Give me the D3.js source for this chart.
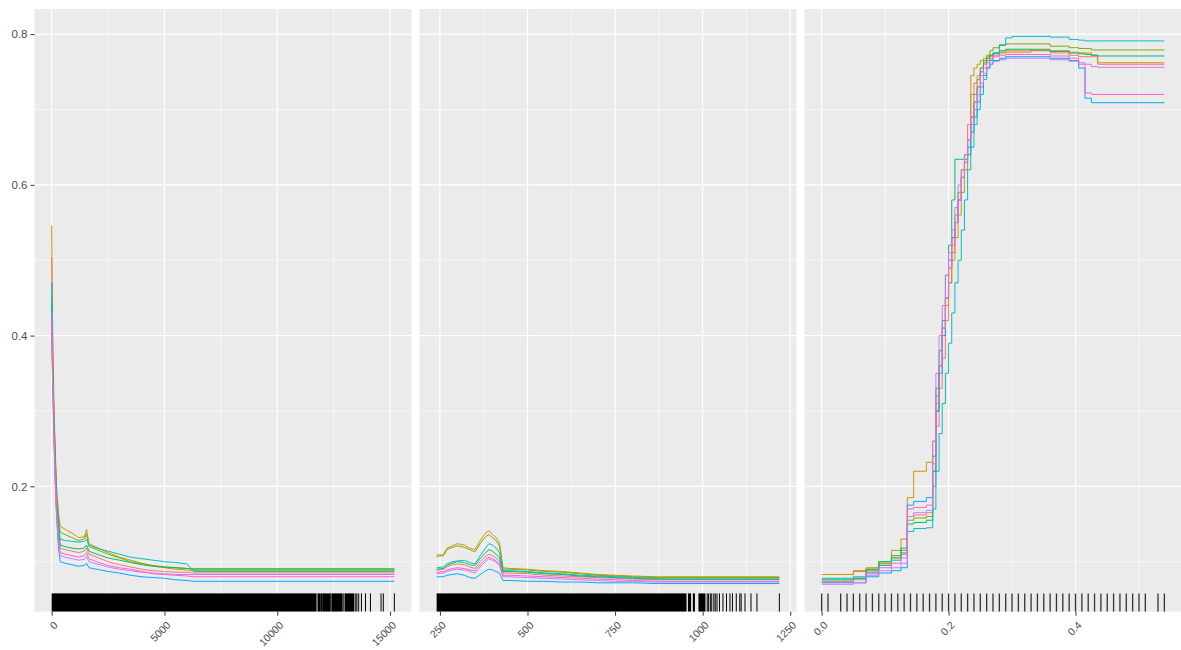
<!DOCTYPE html>
<html>
<head>
<meta charset="utf-8">
<script src="https://cdn.jsdelivr.net/npm/d3@7"></script>
<style>
body { margin: 0; background: #fff; }
text { font-family: "Liberation Sans", Arial, sans-serif; }
</style>
</head>
<body>
<div id="chart"></div>
<script>
// ggplot hue palette, 8 groups
var seriesColors = ["#F8766D", "#CD9600", "#7CAE00", "#00BE67", "#00BFC4", "#00A9FF", "#C77CFF", "#FF61CC"];

var yTicks = [0.2, 0.4, 0.6, 0.8];
var p1Ticks = [0, 5000, 10000, 15000];
var p2Ticks = [250, 500, 750, 1000, 1250];
var p3Ticks = [0, 0.2, 0.4];
var p1Labels = ["0", "5000", "10000", "15000"];
var p2Labels = ["250", "500", "750", "1000", "1250"];
var p3Labels = ["0.0", "0.2", "0.4"];

// panel 1
var p1x = [0, 40, 100, 160, 220, 300, 380, 600, 900, 1200, 1450, 1550, 1650, 2000, 2500, 3000, 3500, 4000, 4500, 5000, 5500, 6000, 6300, 15190];
var p1A = [.504, .40, .30, .24, .19, .155, .118, .116, .114, .112, .114, .118, .110, .106, .100, .096, .093, .090, .088, .087, .086, .086, .085, .085];
var p1B = [.546, .42, .31, .25, .20, .165, .147, .143, .138, .132, .133, .143, .124, .119, .112, .106, .102, .098, .094, .092, .090, .089, .088, .088];
var p1C = [.45, .38, .30, .24, .19, .16, .139, .136, .132, .128, .130, .137, .120, .116, .110, .105, .100, .097, .095, .093, .092, .091, .090, .090];
var p1D = [.44, .37, .29, .23, .18, .15, .122, .120, .118, .117, .118, .122, .114, .110, .105, .102, .099, .096, .094, .093, .092, .091, .0905, .0905];
var p1E = [.40, .35, .28, .22, .18, .15, .130, .128, .127, .126, .127, .130, .122, .118, .114, .110, .106, .104, .102, .100, .099, .097, .087, .087];
var p1F = [.47, .36, .27, .21, .16, .12, .100, .098, .096, .094, .095, .098, .092, .090, .087, .085, .082, .080, .079, .078, .076, .075, .074, .074];
var p1G = [.43, .35, .27, .21, .17, .13, .108, .106, .104, .102, .103, .107, .100, .097, .093, .090, .088, .086, .085, .084, .083, .083, .083, .083];
var p1H = [.415, .34, .26, .20, .16, .13, .112, .110, .108, .106, .108, .112, .104, .100, .095, .092, .090, .087, .084, .083, .082, .081, .080, .080];
var rug1Bands = [[0, 11720], [11800, 11930], [11990, 12340], [12400, 12900], [12990, 13420]];
var rug1Ticks = [11760, 11960, 12370, 12950, 13480, 13530, 13610, 13730, 13910, 14130, 14600, 14700, 15190];

// panel 2
var p2x = [240.6, 260, 270, 285, 300, 320, 335, 350, 365, 380, 390, 400, 410, 420, 430, 450, 500, 550, 600, 650, 700, 750, 800, 870, 880, 1219];
var p2A = [.089, .090, .093, .096, .097, .096, .093, .091, .100, .107, .110, .108, .105, .100, .085, .085, .084, .082, .081, .080, .079, .078, .077, .076, .076, .076];
var p2B = [.109, .109, .118, .121, .124, .122, .118, .116, .128, .138, .141, .136, .132, .125, .092, .091, .090, .088, .087, .085, .083, .082, .081, .080, .080, .080];
var p2C = [.107, .108, .116, .119, .121, .119, .116, .113, .124, .133, .136, .132, .128, .121, .090, .090, .089, .087, .086, .084, .082, .081, .080, .079, .079, .079];
var p2D = [.090, .091, .095, .098, .100, .099, .096, .095, .104, .112, .116, .114, .110, .105, .087, .087, .086, .084, .083, .081, .080, .079, .078, .077, .077, .077];
var p2E = [.092, .093, .097, .100, .101, .102, .099, .097, .108, .118, .124, .122, .118, .112, .088, .088, .087, .085, .084, .082, .081, .080, .079, .078, .077, .077];
var p2F = [.080, .080, .082, .083, .084, .082, .079, .078, .083, .088, .090, .089, .087, .085, .075, .075, .074, .074, .073, .073, .072, .072, .072, .071, .071, .071];
var p2G = [.084, .085, .087, .089, .090, .089, .087, .085, .093, .100, .104, .102, .099, .095, .080, .080, .079, .078, .077, .076, .075, .074, .074, .073, .073, .073];
var p2H = [.086, .087, .089, .091, .092, .091, .089, .088, .096, .103, .106, .104, .101, .097, .082, .082, .081, .080, .079, .078, .077, .076, .075, .074, .074, .074];
var rug2Bands = [[240.6, 954], [958, 967], [972, 978], [988, 1008]];
var rug2Ticks = [1013, 1017, 1022, 1026, 1032, 1036, 1041, 1048, 1058, 1068, 1078, 1085, 1096, 1106, 1110, 1121, 1138, 1155, 1219];

// panel 3 (step curves)
var p3x = [0, 0.03, 0.05, 0.07, 0.09, 0.11, 0.125, 0.135, 0.145, 0.165, 0.175, 0.18, 0.185, 0.19, 0.195, 0.2, 0.205, 0.21, 0.215, 0.22, 0.225, 0.23, 0.235, 0.24, 0.245, 0.25, 0.255, 0.26, 0.265, 0.27, 0.28, 0.29, 0.3, 0.33, 0.36, 0.39, 0.405, 0.415, 0.425, 0.435, 0.54];
var p3A = [.083, .083, .087, .090, .097, .105, .112, .160, .162, .165, .20, .28, .33, .37, .42, .47, .51, .55, .58, .61, .64, .68, .72, .735, .745, .755, .76, .765, .77, .772, .775, .776, .776, .778, .775, .772, .770, .770, .770, .760, .760];
var p3B = [.083, .083, .088, .092, .100, .115, .130, .185, .220, .232, .26, .32, .36, .40, .44, .47, .50, .53, .56, .59, .62, .66, .745, .755, .76, .765, .768, .77, .772, .774, .776, .778, .778, .780, .778, .776, .775, .775, .772, .762, .762];
var p3C = [.074, .074, .078, .088, .098, .105, .115, .155, .158, .160, .22, .30, .36, .41, .45, .49, .53, .56, .59, .62, .64, .66, .69, .72, .74, .755, .765, .772, .778, .782, .786, .787, .787, .787, .784, .782, .781, .781, .779, .779, .779];
var p3D = [.076, .076, .078, .090, .100, .108, .118, .150, .152, .155, .24, .33, .38, .42, .48, .52, .58, .634, .634, .634, .634, .64, .68, .71, .73, .75, .762, .768, .772, .775, .778, .78, .78, .779, .777, .775, .774, .773, .772, .771, .771];
var p3E = [.078, .078, .080, .086, .095, .102, .110, .140, .144, .145, .17, .22, .27, .31, .35, .39, .43, .47, .50, .54, .58, .62, .65, .68, .70, .72, .74, .755, .765, .775, .785, .795, .797, .797, .796, .793, .792, .791, .791, .791, .791];
var p3F = [.072, .072, .072, .080, .085, .088, .092, .175, .180, .185, .22, .30, .35, .40, .45, .50, .53, .55, .58, .61, .63, .65, .67, .69, .71, .73, .745, .755, .76, .765, .768, .770, .770, .770, .768, .765, .755, .715, .709, .709, .709];
var p3G = [.070, .070, .072, .082, .088, .092, .098, .160, .165, .168, .26, .35, .40, .44, .48, .51, .54, .57, .60, .62, .64, .66, .68, .70, .72, .735, .748, .755, .76, .764, .766, .768, .768, .768, .766, .764, .762, .760, .757, .756, .756];
var p3H = [.073, .073, .076, .084, .092, .098, .105, .170, .172, .175, .23, .31, .36, .41, .45, .49, .52, .55, .58, .61, .63, .66, .69, .71, .73, .745, .755, .762, .767, .77, .772, .773, .773, .773, .771, .768, .760, .722, .720, .720, .720];
var rug3Ticks = [0, 0.01, 0.03, 0.04, 0.05, 0.06, 0.07, 0.08, 0.09, 0.10, 0.11, 0.12, 0.13, 0.14, 0.15, 0.16, 0.17, 0.18, 0.19, 0.20, 0.21, 0.22, 0.23, 0.24, 0.25, 0.26, 0.27, 0.28, 0.29, 0.30, 0.31, 0.32, 0.33, 0.34, 0.35, 0.36, 0.37, 0.38, 0.39, 0.40, 0.41, 0.42, 0.43, 0.44, 0.45, 0.46, 0.47, 0.48, 0.49, 0.50, 0.51, 0.53, 0.54];

var width = 1181;
var height = 650;
var plotTop = 9;
var plotBottom = 611.7;
var panelWidth = 377;
var rugLen = 18.3;

var panels = [
    {left: 34.5, x: p1x, series: [p1A, p1B, p1C, p1D, p1E, p1F, p1G, p1H], bands: rug1Bands, rug: rug1Ticks, ticks: p1Ticks, labels: p1Labels, curve: d3.curveLinear},
    {left: 419.5, x: p2x, series: [p2A, p2B, p2C, p2D, p2E, p2F, p2G, p2H], bands: rug2Bands, rug: rug2Ticks, ticks: p2Ticks, labels: p2Labels, curve: d3.curveLinear},
    {left: 804.5, x: p3x, series: [p3A, p3B, p3C, p3D, p3E, p3F, p3G, p3H], bands: [], rug: rug3Ticks, ticks: p3Ticks, labels: p3Labels, curve: d3.curveStepAfter}
];

// ggplot style 5% expansion
function expand(ext) {
    var pad = (ext[1] - ext[0]) * 0.05;
    return [ext[0] - pad, ext[1] + pad];
}

// minor breaks half way between the majors, plus one either side
function minorBreaks(major, domain) {
    var step = major[1] - major[0];
    var out = [major[0] - step / 2];
    for (var i = 0; i < major.length; i++) out.push(major[i] + step / 2);
    return out.filter(v => v > domain[0] && v < domain[1]);
}

var allY = [];
panels.forEach(p => p.series.forEach(s => allY = allY.concat(s)));
var y = d3.scaleLinear().domain(expand(d3.extent(allY))).range([plotBottom, plotTop]);

var svg = d3.select("#chart").append("svg")
    .attr("width", width)
    .attr("height", height)
    .style("display", "block");

svg.append("rect").attr("width", width).attr("height", height).attr("fill", "#ffffff");

panels.forEach(function (p, pi) {
    var ext = d3.extent(p.x.concat(p.rug));
    var x = d3.scaleLinear().domain(expand(ext)).range([0, panelWidth]);

    var g = svg.append("g").attr("transform", "translate(" + p.left + ",0)");
    var clipId = "clip" + pi;
    g.append("clipPath").attr("id", clipId).append("rect")
        .attr("x", 0).attr("y", plotTop).attr("width", panelWidth).attr("height", plotBottom - plotTop);

    g.append("rect")
        .attr("x", 0).attr("y", plotTop)
        .attr("width", panelWidth).attr("height", plotBottom - plotTop)
        .attr("fill", "#EBEBEB");

    // grid lines
    var grid = g.append("g");
    grid.selectAll(".ymin").data(minorBreaks(yTicks, y.domain())).enter().append("line")
        .attr("x1", 0).attr("x2", panelWidth)
        .attr("y1", d => y(d)).attr("y2", d => y(d))
        .attr("stroke", "#fff").attr("stroke-width", 0.6);
    grid.selectAll(".xmin").data(minorBreaks(p.ticks, x.domain())).enter().append("line")
        .attr("y1", plotTop).attr("y2", plotBottom)
        .attr("x1", d => x(d)).attr("x2", d => x(d))
        .attr("stroke", "#fff").attr("stroke-width", 0.6);
    grid.selectAll(".ymaj").data(yTicks).enter().append("line")
        .attr("x1", 0).attr("x2", panelWidth)
        .attr("y1", d => y(d)).attr("y2", d => y(d))
        .attr("stroke", "#fff").attr("stroke-width", 1.2);
    grid.selectAll(".xmaj").data(p.ticks).enter().append("line")
        .attr("y1", plotTop).attr("y2", plotBottom)
        .attr("x1", d => x(d)).attr("x2", d => x(d))
        .attr("stroke", "#fff").attr("stroke-width", 1.2);

    // curves
    var lineGen = d3.line()
        .x((d, i) => x(p.x[i]))
        .y(d => y(d))
        .curve(p.curve);
    g.append("g").attr("clip-path", "url(#" + clipId + ")")
        .selectAll("path").data(p.series).enter().append("path")
        .attr("d", lineGen)
        .attr("fill", "none")
        .attr("stroke", (d, i) => seriesColors[i])
        .attr("stroke-width", 1);

    // rug
    var rug = g.append("g").attr("clip-path", "url(#" + clipId + ")");
    rug.selectAll("rect").data(p.bands).enter().append("rect")
        .attr("x", d => x(d[0]))
        .attr("width", d => Math.max(1, x(d[1]) - x(d[0])))
        .attr("y", plotBottom - rugLen).attr("height", rugLen)
        .attr("fill", "#000");
    rug.selectAll("line").data(p.rug).enter().append("line")
        .attr("x1", d => x(d)).attr("x2", d => x(d))
        .attr("y1", plotBottom - rugLen).attr("y2", plotBottom)
        .attr("stroke", pi == 2 ? "#333" : "#000")
        .attr("stroke-width", pi == 2 ? 1.3 : 1);

    // x axis, labels turned 45 degrees
    var xAxis = d3.axisBottom(x).tickValues(p.ticks).tickSize(4)
        .tickFormat((d, i) => p.labels[i]);
    var ax = g.append("g").attr("transform", "translate(0," + plotBottom + ")").call(xAxis);
    ax.select(".domain").remove();
    ax.selectAll(".tick line").attr("stroke", "#333").attr("stroke-width", 1);
    ax.selectAll(".tick text")
        .attr("x", 0).attr("y", 0).attr("dy", "0.71em")
        .attr("text-anchor", "end")
        .attr("transform", "translate(1,9) rotate(-45)")
        .attr("fill", "#4D4D4D")
        .attr("font-size", "10.5px")
        .attr("font-family", "Liberation Sans, Arial, sans-serif");

    if (pi == 0) {
        var yAxis = d3.axisLeft(y).tickValues(yTicks).tickSize(4).tickPadding(3)
            .tickFormat(d3.format(".1f"));
        var ay = g.append("g").call(yAxis);
        ay.select(".domain").remove();
        ay.selectAll(".tick line").attr("stroke", "#333").attr("stroke-width", 1);
        ay.selectAll(".tick text")
            .attr("fill", "#4D4D4D")
            .attr("font-size", "11.5px")
            .attr("font-family", "Liberation Sans, Arial, sans-serif");
    }
});
</script>
</body>
</html>
